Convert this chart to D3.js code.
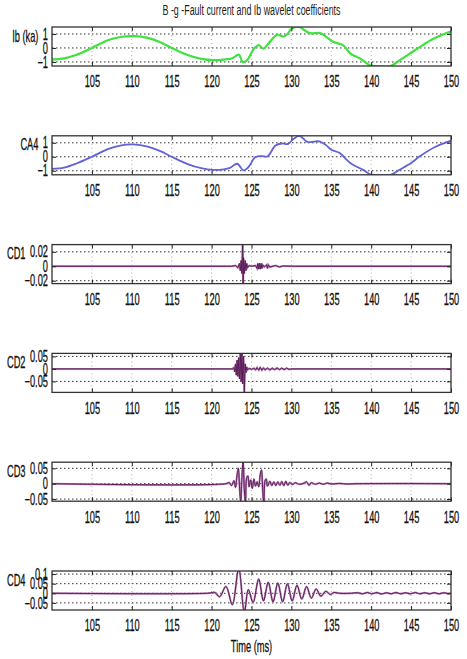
<!DOCTYPE html>
<html>
<head>
<meta charset="utf-8">
<script src="https://cdn.jsdelivr.net/npm/d3@7"></script>
<style>
    body { margin: 0; background: #fff; }
    svg { display: block; font-family: "Liberation Sans", Arial, sans-serif; }
</style>
</head>
<body>
<div id="chart"></div>
<script>

// ---- data ----
const titleText = "B -g -Fault current and Ib wavelet coefficients";
const xLabelText = "Time (ms)";
const xDomain = [100, 150];
const xTicks = [105, 110, 115, 120, 125, 130, 135, 140, 145, 150];

const panelLabels = ["Ib (ka)", "CA4", "CD1", "CD2", "CD3", "CD4"];
const panelTicks = [[-1, 0, 1], [-1, 0, 1], [-0.02, 0, 0.02], [-0.05, 0, 0.05], [-0.05, 0, 0.05], [-0.05, 0, 0.05, 0.1]];
const panelDomains = [[-1.29, 1.5], [-1.29, 1.5], [-0.024, 0.03], [-0.094, 0.062], [-0.057, 0.07], [-0.087, 0.116]];

// [time ms, value]
const ibWave = [[100,-0.82],[101.5,-0.74],[103,-0.5],[105,0],[107,0.55],[108.7,0.8],[110.3,0.85],[112,0.72],[113.5,0.42],
    [115,0],[117,-0.5],[118.7,-0.78],[120.3,-0.87],[121.5,-0.83],[122.6,-0.73],[123.4,-0.48],[123.9,-1.0],[124.4,-0.9],
    [125.3,-0.05],[125.9,0.2],[126.5,-0.05],[127.1,0.3],[128.2,0.94],[129,0.82],[129.5,1.0],[130,1.36],[130.9,1.52],
    [131.7,1.25],[132.3,1.06],[133.6,1.06],[134.4,0.78],[135.3,0.42],[136.5,0.19],[137.4,-0.4],[138.6,-0.75],[139.7,-1.2],
    [140.4,-1.3],[141.5,-1.32],[142.4,-1.3],[143.6,-0.87],[145.9,0],[147.8,0.66],[150,1.2]];

const ca4Wave = [[100,-0.87],[101.5,-0.78],[103,-0.5],[105,0],[107,0.55],[108.7,0.82],[110.2,0.88],[112,0.72],[113.5,0.42],
    [115,0],[117,-0.52],[118.7,-0.82],[120.2,-0.94],[121.5,-0.9],[122.3,-0.8],[123.2,-0.5],[124,-0.98],[124.6,-0.75],
    [125.5,-0.02],[126.3,0.05],[127,0.02],[128,0.8],[128.8,0.95],[129.6,0.92],[130.2,1.25],[131,1.5],[132,1.06],
    [132.8,1.08],[133.5,1.1],[134.3,0.85],[135,0.5],[136,0.28],[137.5,-0.5],[139,-0.94],[140,-1.28],[141.2,-1.31],
    [142.5,-1.28],[143.5,-0.95],[145,-0.45],[146,0],[148,0.7],[150,1.15]];

const cd1Wave = [[100,0],[122.5,0],[123.0,0.001],[123.3,-0.002],[123.5,0.004],[123.6,-0.006],[123.7,0.008],[123.8,-0.01],
    [123.9,0.04],[123.95,-0.035],[124.0,0.012],[124.1,-0.01],[124.2,0.008],[124.3,-0.006],[124.4,0.004],[124.5,-0.002],
    [124.7,0.001],[125.0,0],[125.5,0.001],[125.7,-0.003],[125.8,0.004],[125.9,-0.004],[126.0,0.004],[126.1,-0.004],
    [126.2,0.004],[126.3,-0.003],[126.4,0.002],[126.6,-0.001],[126.9,0.002],[127.0,-0.003],[127.1,0.002],[127.3,-0.001],
    [128,0.001],[128.5,-0.001],[129,0.0005],[130,0],[150,0]];

const cd2Wave = [[100,0],[122.6,0],[122.8,0.005],[122.9,-0.012],[123.0,0.02],[123.1,-0.025],[123.2,0.035],[123.3,-0.03],
    [123.4,0.045],[123.5,-0.04],[123.6,0.06],[123.7,-0.05],[123.8,0.07],[123.9,-0.06],[124.0,0.05],[124.1,-0.095],
    [124.2,0.02],[124.3,-0.015],[124.4,0.008],[124.5,-0.004],[124.7,0.002],[125.0,-0.002],[125.3,0.003],[125.5,-0.004],
    [125.7,0.005],[125.9,-0.005],[126.1,0.006],[126.3,-0.005],[126.5,0.004],[126.7,-0.004],[127,0.003],[127.3,-0.004],
    [127.6,0.003],[127.9,-0.003],[128.2,0.004],[128.5,-0.003],[128.8,0.003],[129.1,-0.003],[129.4,0.003],[129.7,-0.002],
    [130,0],[150,0]];

const cd3Wave = [[100,0],[121.8,0],[122.2,0.004],[122.5,-0.006],[122.8,0.01],[123.0,-0.012],[123.2,0.03],[123.35,0.05],
    [123.5,-0.01],[123.65,-0.06],[123.8,0.02],[123.95,0.075],[124.1,-0.02],[124.25,-0.065],[124.4,0.02],[124.55,0.025],
    [124.7,-0.01],[124.9,0.012],[125.1,-0.015],[125.3,0.015],[125.5,-0.008],[125.7,0.006],[125.9,-0.01],[126.1,0.03],
    [126.25,0.045],[126.4,-0.02],[126.55,-0.065],[126.7,0.01],[126.85,0.015],[127.0,-0.008],[127.3,0.008],[127.55,-0.006],
    [127.8,0.006],[128.05,-0.006],[128.3,0.006],[128.55,-0.005],[128.8,0.007],[129.05,-0.006],[129.3,0.008],[129.55,-0.005],
    [129.8,0.004],[130.1,-0.003],[130.5,0.003],[131,-0.002],[131.6,0.002],[131.9,0.006],[132.2,-0.005],[132.5,0.003],
    [133,-0.002],[133.5,0.002],[134,-0.002],[134.5,0.002],[135,-0.001],[136,0.001],[137,-0.001],[138,0],[150,0]];

const cd4Wave = [[100,0],[119.5,0],[120.4,0.004],[121.0,-0.018],[121.8,0.035],[122.6,-0.06],[123.4,0.13],[124.1,-0.1],
    [124.6,0.02],[125.2,-0.048],[125.9,0.075],[126.5,-0.04],[127.1,0.058],[127.7,-0.045],[128.3,0.054],[128.9,-0.045],
    [129.5,0.05],[130.1,-0.04],[130.7,0.042],[131.3,-0.03],[131.9,0.035],[132.5,-0.025],[133.1,0.022],[133.7,-0.015],
    [134.3,0.01],[134.9,-0.006],[135.3,0.004],[136,0],[137.5,0],[138.3,0.003],[138.9,-0.003],[139.5,0.004],[140.1,-0.003],
    [140.7,0.004],[141.3,-0.004],[141.9,0.003],[142.5,-0.003],[143.1,0.004],[143.7,-0.003],[144.3,0.003],[144.9,-0.003],
    [145.5,0.004],[146.1,-0.003],[146.7,0.003],[147.3,-0.003],[147.9,0.003],[148.5,-0.003],[149.1,0.003],[149.7,-0.002],
    [150,0.002]];

const panelWaves = [ibWave, ca4Wave, cd1Wave, cd2Wave, cd3Wave, cd4Wave];

// ---- layout ----
const W = 467, H = 659;
const left = 52, right = 451;
const firstTop = 27, step = 108.8, panelH = 39;
const sx = 0.58;          // the reference text is horizontally squeezed
const fontSize = 16;

const svg = d3.select("#chart").append("svg")
    .attr("width", W)
    .attr("height", H);

const x = d3.scaleLinear().domain(xDomain).range([left, right]);

// title
svg.append("text")
    .attr("x", (left + right) / 2 - 89)
    .attr("y", 10)
    .attr("dy", "0.35em")
    .attr("font-size", 14)
    .attr("textLength", 178)
    .attr("lengthAdjust", "spacingAndGlyphs")
    .attr("fill", "#222")
    .text(titleText);

panelWaves.forEach(function (wave, i) {
    let top = firstTop + i * step;
    let bottom = top + panelH;

    let y = d3.scaleLinear().domain(panelDomains[i]).range([bottom, top]);

    let g = svg.append("g").attr("class", "panel");

    g.append("clipPath").attr("id", "clip" + i)
        .append("rect")
        .attr("x", left).attr("y", top)
        .attr("width", right - left).attr("height", panelH);

    // grid
    g.selectAll(".vgrid").data(xTicks.slice(0, -1)).join("line")
        .attr("x1", d => x(d)).attr("x2", d => x(d))
        .attr("y1", top).attr("y2", bottom)
        .attr("stroke", "#999").attr("stroke-width", 0.8)
        .attr("stroke-dasharray", "1,3");
    g.selectAll(".hgrid").data(panelTicks[i]).join("line")
        .attr("x1", left).attr("x2", right)
        .attr("y1", d => y(d)).attr("y2", d => y(d))
        .attr("stroke", "#333").attr("stroke-width", 1)
        .attr("stroke-dasharray", "1.5,2.5");

    // signal
    let line = d3.line()
        .x(d => x(d[0]))
        .y(d => y(d[1]))
        .curve(i < 2 ? d3.curveCatmullRom : (i < 4 ? d3.curveLinear : d3.curveCatmullRom));

    let plot = g.append("g").attr("clip-path", "url(#clip" + i + ")");
    if (i === 0) {
        plot.append("path").datum(wave).attr("d", line)
            .attr("fill", "none").attr("stroke", "#3fe23f").attr("stroke-width", 2.2);
    } else if (i === 1) {
        plot.append("path").datum(wave).attr("d", line)
            .attr("fill", "none").attr("stroke", "#6262dc").attr("stroke-width", 1.8);
    } else {
        plot.append("path").datum(wave).attr("d", line)
            .attr("fill", "none").attr("stroke", "#bb80b8").attr("stroke-width", 2);
        plot.append("path").datum(wave).attr("d", line)
            .attr("fill", "none").attr("stroke", "#5a1f57").attr("stroke-width", 1);
    }

    // axes with inward ticks (matlab style)
    let xAxis = g.append("g")
        .attr("transform", "translate(0," + bottom + ")")
        .call(d3.axisBottom(x).tickValues(xTicks).tickSize(-4).tickPadding(10).tickFormat(d3.format("d")));
    xAxis.select(".domain").remove();
    xAxis.selectAll("text")
        .attr("font-size", fontSize)
        .attr("fill", "#111")
        .attr("stroke", "#111").attr("stroke-width", 0.3)
        .attr("transform", "scale(" + sx + ",1)");

    g.append("g")
        .attr("transform", "translate(0," + top + ")")
        .call(d3.axisTop(x).tickValues(xTicks).tickSize(-4).tickFormat(""))
        .select(".domain").remove();

    let yAxis = g.append("g")
        .attr("transform", "translate(" + left + ",0)")
        .call(d3.axisLeft(y).tickValues(panelTicks[i]).tickSize(-4).tickFormat(d3.format("")));
    yAxis.select(".domain").remove();
    yAxis.selectAll("text")
        .attr("font-size", fontSize)
        .attr("fill", "#111")
        .attr("stroke", "#111").attr("stroke-width", 0.3)
        .attr("x", -4 / sx)
        .attr("transform", "scale(" + sx + ",1)");

    g.append("g")
        .attr("transform", "translate(" + right + ",0)")
        .call(d3.axisRight(y).tickValues(panelTicks[i]).tickSize(-4).tickFormat(""))
        .select(".domain").remove();

    g.selectAll(".tick line").attr("stroke", "#222");

    // box
    g.append("rect")
        .attr("x", left).attr("y", top)
        .attr("width", right - left).attr("height", panelH)
        .attr("fill", "none").attr("stroke", "#333").attr("stroke-width", 1.3);

    // horizontal y label, just left of the tick labels
    let bb = yAxis.node().getBBox();
    g.append("text")
        .attr("x", (left + bb.x + 1) / sx)
        .attr("y", top + 9)
        .attr("dy", "0.35em")
        .attr("text-anchor", "end")
        .attr("font-size", fontSize)
        .attr("fill", "#111")
        .attr("stroke", "#111").attr("stroke-width", 0.3)
        .attr("transform", "scale(" + sx + ",1)")
        .text(panelLabels[i]);
});

// x axis label
svg.append("text")
    .attr("x", ((left + right) / 2) / sx)
    .attr("y", 646)
    .attr("dy", "0.35em")
    .attr("text-anchor", "middle")
    .attr("font-size", fontSize)
    .attr("fill", "#111")
    .attr("stroke", "#111").attr("stroke-width", 0.3)
    .attr("transform", "scale(" + sx + ",1)")
    .text(xLabelText);

</script>
</body>
</html>
